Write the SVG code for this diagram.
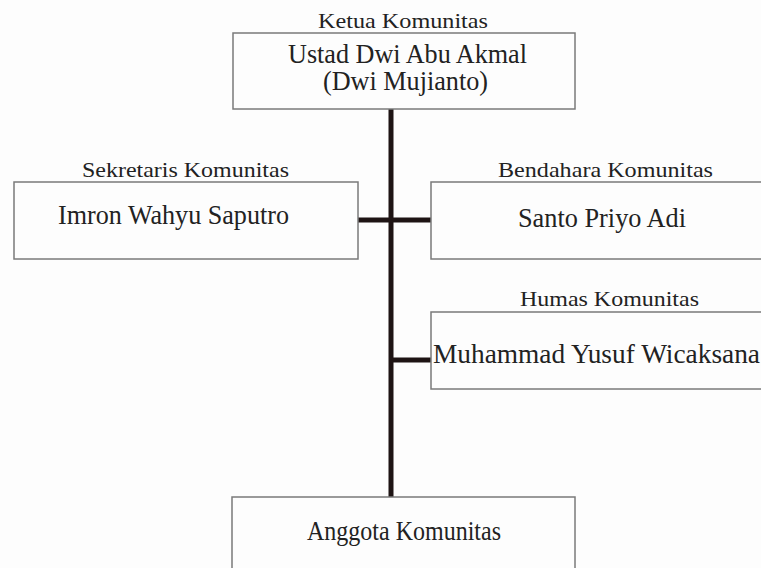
<svg xmlns="http://www.w3.org/2000/svg" width="761" height="568" viewBox="0 0 761 568">
<style>
.box{fill:#fdfdfd;stroke:#7a7a7a;stroke-width:1.5}
.lbl{font-family:"Liberation Serif","Times New Roman",serif;font-size:22px;fill:#222}
.nm{font-family:"Liberation Serif","Times New Roman",serif;font-size:27px;fill:#222}
.ln{stroke:#1e1414;stroke-width:5;fill:none}
</style>
<rect width="761" height="568" fill="#fdfdfd"/>
<g id="connectors">
<line class="ln" x1="391" y1="109" x2="391" y2="497"/>
<line class="ln" x1="358" y1="220" x2="431" y2="220"/>
<line class="ln" x1="391" y1="360" x2="431" y2="360"/>
</g>
<g id="ketua">
<text class="lbl" x="318" y="28" textLength="170" lengthAdjust="spacingAndGlyphs">Ketua Komunitas</text>
<rect class="box" x="233" y="33" width="342" height="76"/>
<text class="nm" x="288" y="63" textLength="239" lengthAdjust="spacingAndGlyphs">Ustad Dwi Abu Akmal</text>
<text class="nm" x="323" y="90" textLength="165" lengthAdjust="spacingAndGlyphs">(Dwi Mujianto)</text>
</g>
<g id="sekretaris">
<text class="lbl" x="82" y="177" textLength="207" lengthAdjust="spacingAndGlyphs">Sekretaris Komunitas</text>
<rect class="box" x="14" y="182" width="344" height="77"/>
<text class="nm" x="58" y="224" textLength="231" lengthAdjust="spacingAndGlyphs">Imron Wahyu Saputro</text>
</g>
<g id="bendahara">
<text class="lbl" x="498" y="177" textLength="215" lengthAdjust="spacingAndGlyphs">Bendahara Komunitas</text>
<rect class="box" x="431" y="182" width="340" height="77"/>
<text class="nm" x="518" y="227" textLength="168" lengthAdjust="spacingAndGlyphs">Santo Priyo Adi</text>
</g>
<g id="humas">
<text class="lbl" x="520" y="306" textLength="179" lengthAdjust="spacingAndGlyphs">Humas Komunitas</text>
<rect class="box" x="431" y="312" width="340" height="77"/>
<text class="nm" x="433" y="363" textLength="327" lengthAdjust="spacingAndGlyphs">Muhammad Yusuf Wicaksana</text>
</g>
<g id="anggota">
<rect class="box" x="232" y="497" width="343" height="80"/>
<text class="nm" x="307" y="540" textLength="194" lengthAdjust="spacingAndGlyphs">Anggota Komunitas</text>
</g>
</svg>
